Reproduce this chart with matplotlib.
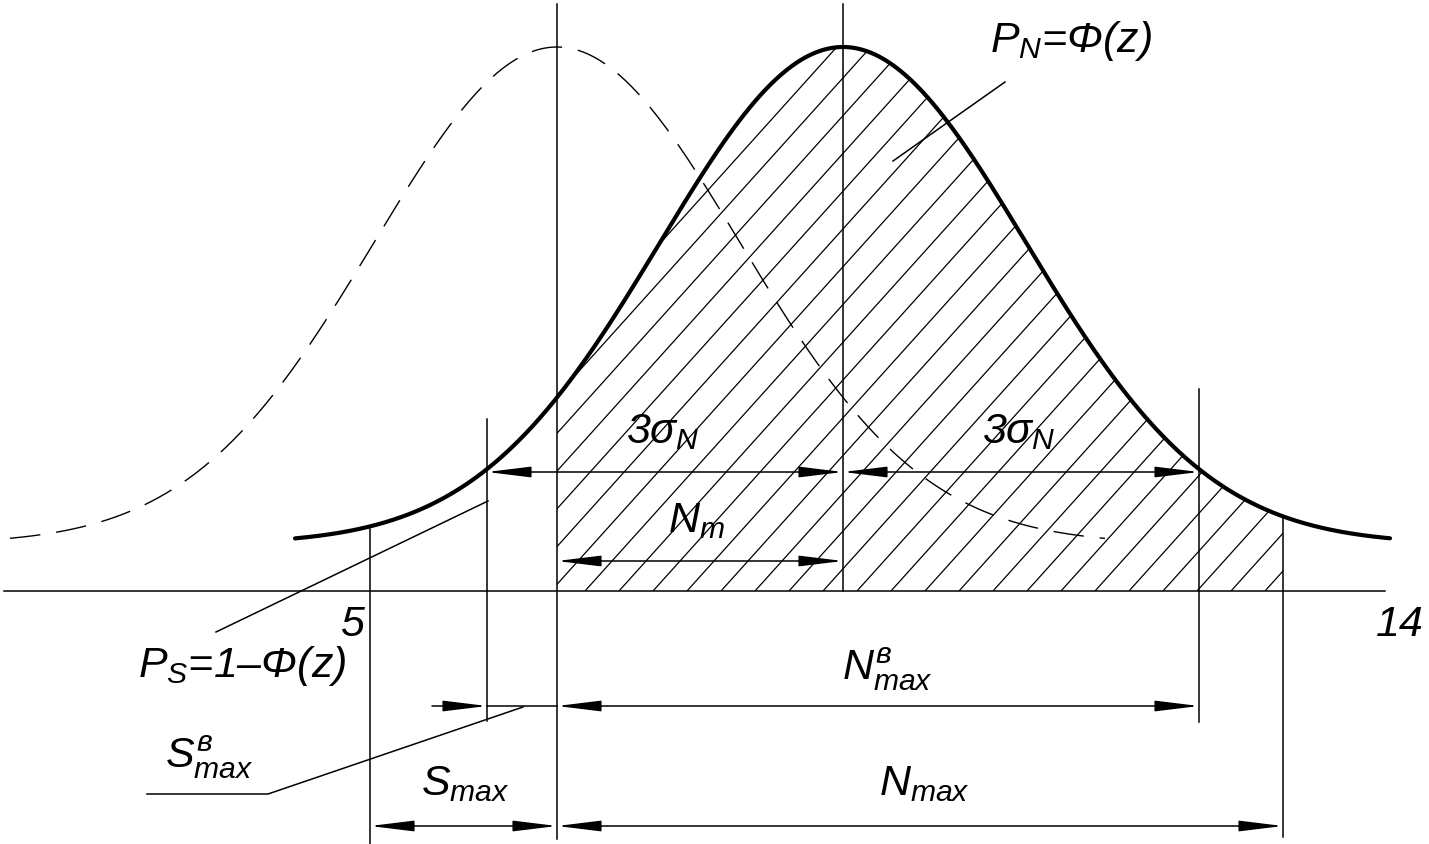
import numpy as np
import matplotlib
matplotlib.use('Agg')
import matplotlib.pyplot as plt
from matplotlib.patches import Polygon
from matplotlib.collections import LineCollection

plt.rcParams['font.family'] = ['Liberation Sans', 'DejaVu Sans']
plt.rcParams['mathtext.fontset'] = 'custom'
plt.rcParams['mathtext.it'] = 'Liberation Sans:italic'
plt.rcParams['mathtext.rm'] = 'Liberation Sans:italic'
plt.rcParams['mathtext.default'] = 'it'

# curve shape, drawing units (axis at y=0)
mu_N = 843          # centre of solid curve (N)
mu_S = 557          # centre of dashed curve (S)
sigma = 183
amp = 497
base = 47
solid_span = [295, 1390]
dashed_span = [10, 1105]
hatch_span = [557, 1283]
axis_span = [4, 1385]

# extension lines: x, bottom, top
ext_x = [557, 843, 487, 1199, 1283, 370]
ext_lo = [-248, 0, -130, -131, -246, -253]
ext_hi = [587, 587, 172, 202, 74, 62]

# dimension lines (double arrows)
dim_x0 = [487, 843, 557, 557, 370, 557]
dim_x1 = [843, 1199, 843, 1199, 557, 1283]
dim_y = [119, 119, 30, -115, -235, -235]

# leader lines
leaders = [
    ([893, 1005], [430, 509]),
    ([216, 488], [-41, 90]),
    ([147, 268, 523], [-203, -203, -116]),
]

# labels
lab_txt = ['$P_N$=Φ(z)', '3$σ_N$', '3$σ_N$', '$N_m$', '$P_S$=1–Φ(z)',
           r'$S_{max}^{в}$', r'$N_{max}^{в}$', r'$S_{max}$', r'$N_{max}$']
lab_x = [990, 626, 982, 668, 138, 165, 842, 421, 879]
lab_y = [540, 149, 149, 60, -85, -176, -88, -203, -203]
num_txt = ['5', '14']
num_x = [340, 1376]
num_y = [-44, -44]


def curve(x, mu):
    return base + amp * np.exp(-0.5 * ((x - mu) / sigma) ** 2)


fig = plt.figure(figsize=(14.29, 8.45), dpi=100)
ax = fig.add_axes([0, 0, 1, 1])
ax.set_xlim(0, 1429)
ax.set_ylim(592 - 845, 592)
ax.axis('off')

lw = 1.1
# axis
ax.plot(axis_span, [0, 0], color='k', lw=lw)

# hatched area under the solid curve
xh = np.linspace(hatch_span[0], hatch_span[1], 400)
verts = [(hatch_span[0], 0)] + list(zip(xh, curve(xh, mu_N))) + [(hatch_span[1], 0)]
poly = Polygon(verts, closed=True, facecolor='none', edgecolor='none')
ax.add_patch(poly)
ang = np.deg2rad(48)
segs = []
for c in np.arange(585 - 34 * 20, hatch_span[1] + 34, 34):
    segs.append([(c, 0), (c + 600 / np.tan(ang), 600)])
lc = LineCollection(segs, colors='k', linewidths=0.9)
ax.add_collection(lc)
lc.set_clip_path(poly)

# curves
xs = np.linspace(solid_span[0], solid_span[1], 600)
ax.plot(xs, curve(xs, mu_N), color='k', lw=3.0, solid_capstyle='round')
xd = np.linspace(dashed_span[0], dashed_span[1], 600)
ax.plot(xd, curve(xd, mu_S), color='k', lw=1.0, dashes=(22, 11.5))

# extension lines
for x, lo, hi in zip(ext_x, ext_lo, ext_hi):
    ax.plot([x, x], [lo, hi], color='k', lw=lw)

arrow = dict(arrowstyle='<|-|>,head_length=2.7,head_width=0.33', mutation_scale=10,
             lw=lw, color='k', shrinkA=0, shrinkB=0)
for x0, x1, y in zip(dim_x0, dim_x1, dim_y):
    ax.annotate('', xy=(x1, y), xytext=(x0, y), arrowprops=arrow)

# outside arrow for S_max^в
one = dict(arrow)
one['arrowstyle'] = '-|>,head_length=2.7,head_width=0.33'
ax.annotate('', xy=(487, -115), xytext=(432, -115), arrowprops=one)
ax.plot([487, 557], [-115, -115], color='k', lw=lw)

for lx, ly in leaders:
    ax.plot(lx, ly, color='k', lw=lw)

for t, x, y in zip(lab_txt, lab_x, lab_y):
    ax.text(x, y, t, fontsize=31, style='italic', ha='left', va='baseline')
for t, x, y in zip(num_txt, num_x, num_y):
    ax.text(x, y, t, fontsize=31, style='italic', ha='left', va='baseline')

fig.savefig('out.png', dpi=100, facecolor='white')
